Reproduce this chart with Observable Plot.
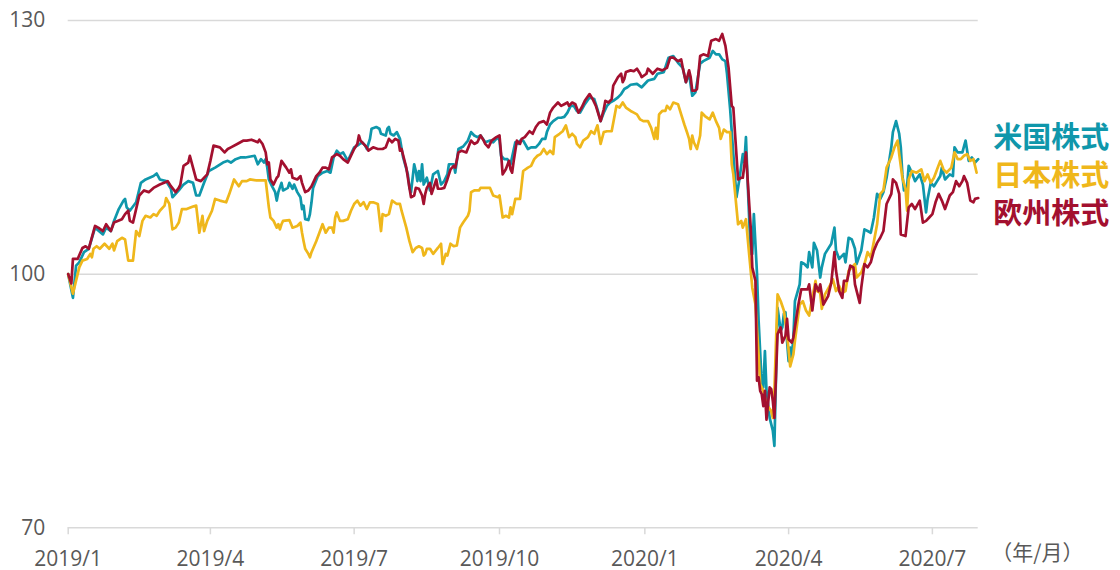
<!DOCTYPE html>
<html><head><meta charset="utf-8">
<script src="https://cdn.jsdelivr.net/npm/d3@7"></script>
<script src="https://cdn.jsdelivr.net/npm/@observablehq/plot@0.6"></script>
<style>html,body{margin:0;padding:0;background:#fff;} #chart svg{display:block;}</style>
</head><body><div id="chart"></div>
<script>
// ---- data (days since 2019-01-01, index values, start = 100) ----
const startDate = "2019-01-01";
const endDate = "2020-07-30";
const tickDates = ["2019-01-01","2019-04-01","2019-07-01","2019-10-01","2020-01-01","2020-04-01","2020-07-01"];
const tickLabels = ["2019/1","2019/4","2019/7","2019/10","2020/1","2020/4","2020/7"];
const yTicks = [70, 100, 130];
const seriesNames = ["米国株式", "日本株式", "欧州株式"];
const seriesColors = ["#0f97ab", "#efb71b", "#a3102f"];
const unitLabel = "（年/月）";

const usDays = [0,3,5,7,10,13,17,22,24,27,29,32,35,36,37,39,43,46,49,54,56,58,62,65,66,68,70,73,76,79,81,83,86,89,93,98,101,103,106,109,112,118,120,122,124,125,126,127,129,131,132,133,135,136,139,140,142,143,145,147,148,149,150,152,153,154,155,158,161,164,166,168,170,172,174,177,179,181,183,186,188,189,191,192,195,197,198,201,202,203,204,206,208,210,212,215,216,217,219,220,221,222,223,224,225,227,229,231,234,236,238,240,241,244,245,247,250,253,255,257,259,261,264,267,269,272,273,274,276,278,280,283,285,286,288,291,293,296,298,300,302,303,305,307,310,312,314,316,318,320,322,324,327,330,333,335,337,339,341,343,345,348,350,352,354,356,360,363,367,371,373,377,380,383,386,389,391,393,395,397,400,402,406,408,410,412,414,416,417,419,421,423,425,427,428,429,430,432,433,434,436,437,439,440,441,442,444,446,447,449,451,452,453,454,455,456,457,458,459,460,463,464,466,468,469,471,472,474,475,476,477,479,483,485,486,488,491,492,494,496,498,499,502,504,506,508,510,512,514,516,518,521,522,524,526,527,528,529,531,532,534,536,539,541,543,544,546,548,550,552,553,555,558,560,561,563,566,568,570,572,574,576];
const usValues = [100,97.2,101.0,101.4,102.6,103.0,105.5,104.7,105.5,105.1,106.3,107.7,108.7,108.9,107.9,107.5,108.5,110.8,111.2,111.6,111.9,111.2,111.0,110.1,109.1,109.5,109.9,110.6,111.0,110.8,109.3,109.3,110.8,112.2,112.6,113.2,113.4,113.2,113.6,113.8,113.8,114.0,113.0,113.6,113.2,113.6,112.6,111.2,110.4,109.7,108.7,109.7,110.8,109.9,110.2,110.8,110.1,110.6,109.7,109.1,107.7,108.1,106.5,106.4,107.1,108.5,110.2,111.6,112.0,112.2,112.0,113.8,114.6,114.2,114.4,113.4,114.2,115.0,115.2,115.6,115.2,114.8,116.0,117.2,117.4,117.2,116.6,116.4,117.2,117.4,116.6,116.4,116.8,116.0,113.8,111.8,110.2,109.7,113.0,112.2,111.0,112.2,111.0,113.0,110.6,111.4,109.9,111.8,112.2,110.6,111.0,111.8,113.0,113.0,112.0,114.8,115.1,115.8,116.8,116.4,116.2,116.4,115.6,115.8,115.6,116.2,115.8,114.0,113.6,113.6,113.0,115.6,115.4,115.8,115.8,114.8,115.0,115.0,115.4,116.0,116.0,116.8,117.7,118.1,118.5,118.5,118.6,119.1,119.9,119.9,119.3,119.1,120.1,120.9,120.7,119.5,118.1,119.1,119.9,120.3,120.5,120.9,121.3,121.9,122.1,122.4,122.5,122.1,122.9,123.1,123.7,123.9,125.6,125.8,125.0,124.4,122.7,123.7,121.1,121.5,124.9,125.2,125.6,126.4,126.0,126.0,125.4,125.2,123.7,119.5,114.2,109.1,111.4,114.2,113.2,116.2,111.2,102.4,102.4,107.1,100.0,94.5,87.0,86.6,90.9,86.2,83.0,81.5,79.7,96.0,93.3,93.7,95.3,95.5,92.1,89.7,91.3,90.1,92.5,96.8,98.8,101.4,101.2,100.8,102.6,100.8,103.7,102.8,101.2,99.6,100.8,102.4,103.6,105.5,102.8,101.8,102.4,101.4,104.3,104.1,103.0,101.2,102.8,105.3,105.1,104.9,106.7,109.5,108.9,109.7,111.4,115.0,116.8,118.1,116.6,115.0,111.8,109.9,110.4,112.8,112.0,111.0,111.8,110.6,107.3,108.9,110.8,110.4,111.0,111.6,112.6,111.2,111.8,111.6,115.0,114.4,114.4,115.8,113.4,113.8,113.2,113.6];

const jpDays = [0,3,7,9,12,14,15,16,18,20,23,26,28,29,31,34,36,38,41,43,45,47,49,52,54,56,58,61,62,64,66,68,70,72,75,79,81,83,85,86,88,91,93,96,100,102,105,108,110,113,115,119,125,127,128,130,132,133,134,135,136,140,142,145,147,148,149,150,152,153,154,157,159,161,163,165,167,168,169,170,172,174,177,179,181,183,185,187,189,191,193,196,198,199,201,203,205,208,210,211,214,216,218,220,222,224,225,226,227,229,231,234,236,237,239,240,242,244,246,248,250,253,254,255,257,260,261,267,269,272,273,275,277,279,280,281,283,286,288,291,293,295,297,299,301,303,305,307,308,311,313,315,317,319,321,322,324,326,329,331,333,335,337,339,341,344,347,349,351,353,356,358,360,362,364,367,369,371,372,373,374,376,378,379,381,383,386,388,390,392,393,394,395,396,398,400,401,403,406,408,410,412,413,415,417,419,420,421,424,426,427,429,431,433,435,437,438,440,442,445,446,447,449,451,453,455,457,459,460,463,465,467,469,471,473,474,476,477,479,482,484,486,488,490,492,494,496,498,499,502,504,506,508,510,512,514,516,518,521,523,525,526,528,530,531,532,534,537,540,542,544,546,548,550,552,554,556,559,561,563,565,567,569,571,573,575];
const jpValues = [100,97.7,100.8,101.6,101.8,102.4,102.0,103.0,103.3,103.0,103.6,103.0,103.6,102.8,103.9,104.3,104.1,101.6,101.6,105.1,104.5,106.3,106.9,106.7,107.1,106.9,107.5,108.1,109.0,108.3,105.3,105.5,106.1,107.7,107.7,108.0,108.1,104.9,106.9,105.1,106.3,107.5,108.9,108.7,108.5,109.5,111.2,110.4,111.0,111.0,111.2,111.1,111.1,107.9,106.7,106.3,105.5,105.9,105.3,105.9,106.3,106.4,105.5,105.7,106.1,104.9,103.9,103.0,102.4,102.0,102.6,103.9,104.9,105.9,104.9,105.5,105.5,104.9,106.7,107.3,106.3,106.3,106.5,107.5,108.3,108.7,108.1,108.5,107.7,108.5,108.5,108.3,105.1,107.1,106.9,107.1,108.7,108.3,108.3,107.5,105.5,103.9,102.6,103.1,103.3,103.1,102.2,102.4,103.0,103.0,102.4,103.1,103.6,101.2,102.4,102.2,103.6,103.3,103.4,105.5,106.1,106.9,107.5,109.7,109.9,109.9,110.2,110.2,109.3,109.1,109.3,106.7,106.9,106.7,107.9,107.1,108.9,108.9,112.2,112.6,112.8,113.6,114.0,114.2,114.8,114.2,114.6,114.2,116.2,116.6,116.9,117.6,116.2,116.6,116.2,115.4,115.0,115.8,116.2,116.9,116.6,117.6,115.4,116.8,116.9,116.9,119.9,119.7,120.3,119.7,119.3,119.1,118.9,118.3,118.1,118.1,117.3,116.0,117.3,116.0,118.9,119.3,119.3,119.9,119.5,120.3,120.1,118.9,117.7,116.6,116.0,114.8,116.4,115.6,114.8,116.4,119.1,118.7,118.3,119.1,118.1,117.3,116.0,117.1,116.8,116.8,113.0,111.8,105.9,106.3,105.5,106.5,102.4,98.4,96.4,90.5,87.0,86.2,84.6,83.8,83.0,86.2,97.6,96.8,95.7,92.9,89.1,90.5,92.1,96.4,96.8,95.7,95.1,97.2,99.2,98.0,97.8,95.9,97.6,98.6,99.4,98.0,98.6,97.8,98.0,100.4,100.8,101.2,99.6,100.2,101.2,102.6,102.0,103.9,105.9,109.5,109.9,112.6,113.8,115.0,115.8,114.2,111.4,110.1,107.5,111.2,112.2,112.0,112.4,111.0,111.8,110.8,111.4,112.4,113.4,112.4,112.0,112.6,114.4,113.6,113.6,114.0,114.2,113.4,113.6,112.0];

const euDays = [0,2,3,6,9,11,13,17,19,22,24,27,29,34,36,38,39,41,45,48,51,54,58,63,65,68,70,71,73,76,77,79,81,84,88,90,92,96,99,101,103,107,111,113,116,120,121,123,125,126,127,128,130,132,133,135,138,140,141,142,145,147,148,150,152,154,157,159,161,163,165,167,170,172,174,177,179,181,183,184,185,187,189,190,193,196,199,201,203,205,207,209,210,211,214,216,217,219,220,222,224,225,226,227,229,230,233,234,236,238,240,242,244,245,247,249,252,255,257,259,261,263,264,266,268,271,273,274,275,277,279,280,281,282,284,286,287,289,292,294,296,298,301,303,305,307,310,312,314,316,317,319,321,323,325,327,330,332,334,336,337,339,340,342,344,345,348,350,351,352,353,356,358,360,362,363,366,367,370,373,376,379,381,383,386,388,389,391,393,394,395,397,398,400,402,405,407,410,412,414,416,418,420,421,424,426,427,429,430,432,433,435,436,437,438,439,440,441,442,444,445,446,447,449,451,452,454,455,456,458,459,462,464,466,468,469,471,473,475,476,478,481,483,485,486,488,490,491,493,495,497,498,501,502,504,506,508,510,512,514,516,518,521,522,524,526,527,530,532,534,536,539,541,543,545,547,549,551,553,555,558,560,562,564,566,567,569,571,573,574,576];
const euValues = [100,98.9,101.8,101.8,103.1,103.3,103.0,105.7,105.5,105.1,105.9,105.1,106.1,106.5,107.1,107.5,106.3,106.1,109.3,109.9,109.7,110.2,110.6,111.0,110.4,109.7,110.2,110.6,112.8,113.2,114.0,112.6,111.2,111.0,111.8,113.4,115.2,115.0,114.4,114.8,115.0,115.4,115.8,115.8,115.9,115.6,115.9,115.4,114.4,113.0,113.2,111.2,110.6,111.4,111.6,113.4,112.6,112.0,112.4,111.4,111.2,111.6,110.8,109.7,109.9,110.4,111.6,112.0,112.6,112.6,112.4,113.8,114.2,114.0,113.6,113.2,114.0,114.8,115.4,116.4,115.8,115.4,115.0,114.6,115.0,114.8,114.8,115.0,116.0,115.6,116.0,115.8,114.6,114.8,112.6,110.2,109.1,109.3,110.2,110.1,109.3,108.3,109.5,110.2,110.8,109.5,111.2,110.1,110.1,110.2,111.2,112.4,112.8,112.6,114.4,114.6,114.4,115.8,115.4,115.6,116.4,115.8,115.4,115.0,115.8,116.2,116.4,114.2,111.8,112.4,113.4,112.4,112.0,113.4,115.8,115.4,116.0,116.2,116.9,116.6,117.4,117.9,118.1,117.7,119.1,119.7,120.3,119.9,120.1,120.3,119.9,120.3,120.1,119.1,119.7,120.5,121.3,120.7,119.9,118.7,118.1,119.5,120.5,120.3,120.7,122.3,123.3,123.7,122.7,123.1,123.9,124.1,124.0,124.3,123.7,123.3,123.7,124.3,123.7,124.3,124.1,124.4,125.6,125.6,125.2,125.4,124.4,122.7,124.1,123.3,121.7,121.7,121.9,125.8,126.0,125.8,127.6,127.8,127.6,128.4,127.0,124.4,119.9,119.7,111.2,111.4,111.4,114.4,111.4,105.5,100.8,99.2,87.4,87.8,86.2,85.8,84.4,86.2,82.8,86.6,86.4,85.0,83.0,92.9,93.7,91.9,92.7,94.7,92.3,91.9,92.5,96.2,98.2,98.2,98.2,98.8,95.7,98.8,98.0,98.8,96.4,97.4,99.0,102.6,100.4,98.0,97.2,99.2,99.2,101.0,100.8,98.8,96.6,98.4,101.2,100.8,101.4,102.8,103.7,104.3,105.1,108.3,109.5,111.2,110.8,109.5,104.7,104.5,107.9,108.3,107.7,108.7,106.1,106.3,106.7,107.1,108.5,109.5,108.7,107.7,109.3,109.7,111.0,110.4,111.0,111.6,110.8,108.7,108.5,108.9,109.0];

// ---- build tables ----
const t0 = new Date(startDate);
const toDate = n => d3.utcDay.offset(t0, n);
const build = (days, values) => days.map((d, i) => ({date: toDate(d), value: values[i]}));
const series = [build(usDays, usValues), build(jpDays, jpValues), build(euDays, euValues)];
const ticks = tickDates.map(s => new Date(s));
const labelOf = new Map(ticks.map((d, i) => [+d, tickLabels[i]]));

const gray = "#595959";
const gridColor = "#d9d9d9";
const latin = "'Open Sans','Noto Sans CJK JP',sans-serif";
const cjk = "'Noto Sans CJK JP','Noto Sans CJK SC',sans-serif";
const labelDy = [-135.5, -97.5, -59];

const chart = Plot.plot({
  width: 1120,
  height: 570,
  marginLeft: 67.7,
  marginRight: 142.3,
  marginTop: 20,
  marginBottom: 42.7,
  style: {fontFamily: latin, fontSize: "21px", background: "#fff", overflow: "visible"},
  x: {type: "utc", domain: [new Date(startDate), new Date(endDate)], label: null},
  y: {domain: [70, 130], label: null},
  marks: [
    Plot.ruleY(yTicks, {stroke: gridColor, strokeWidth: 1.5}),
    Plot.axisX(ticks, {tickSize: 7, tickPadding: 16, stroke: gridColor, strokeWidth: 1.5, fill: gray,
      fontSize: 21, label: null, tickFormat: d => labelOf.get(+d)}),
    Plot.axisY(yTicks, {tickSize: 0, tickPadding: 23, fill: gray, fontSize: 21, label: null}),
    ...series.map((data, i) => Plot.line(data, {x: "date", y: "value", stroke: seriesColors[i],
      strokeWidth: 2.7, strokeLinejoin: "round", strokeLinecap: "round"})),
    ...seriesNames.map((name, i) => Plot.text([name], {text: d => d, frameAnchor: "right", dx: 15,
      dy: labelDy[i], textAnchor: "start", fill: seriesColors[i], fontSize: 29, fontWeight: "bold",
      fontFamily: cjk})),
    Plot.text([unitLabel], {text: d => d, frameAnchor: "bottom-right", dx: 13, dy: 32, textAnchor: "start",
      fill: gray, fontSize: 21, fontFamily: cjk})
  ]
});
document.getElementById("chart").append(chart);
</script></body></html>
